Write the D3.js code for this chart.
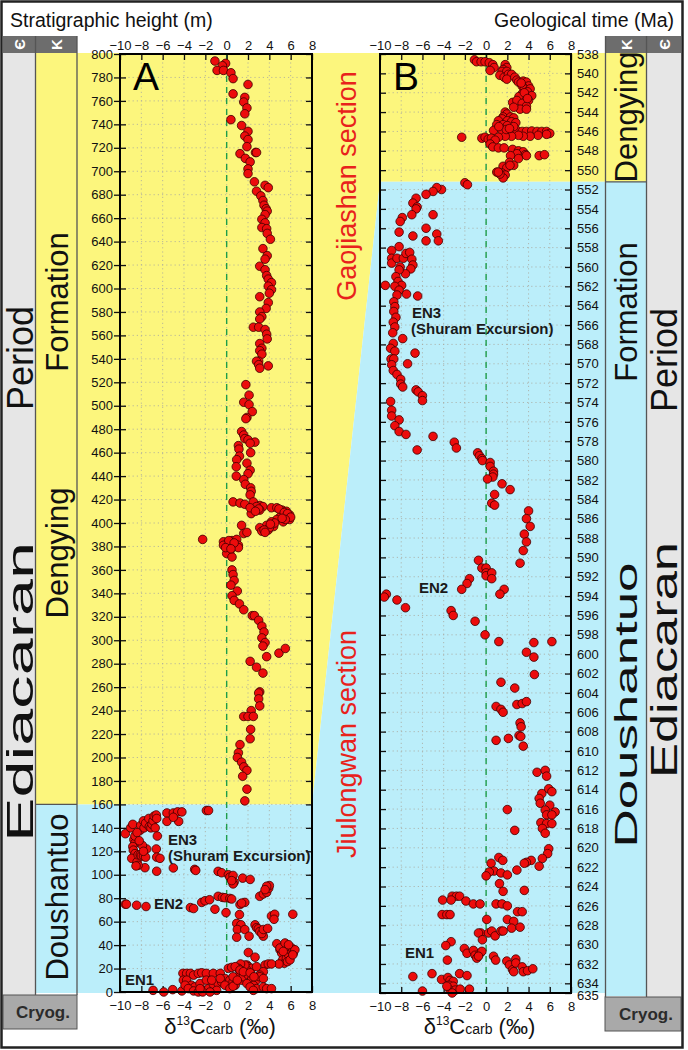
<!DOCTYPE html>
<html>
<head>
<meta charset="utf-8">
<script src="https://cdnjs.cloudflare.com/ajax/libs/d3/7.8.5/d3.min.js"></script>
<style>
  body { margin: 0; background: #fff; }
  svg text { font-family: Arial, "Liberation Sans", sans-serif; }
</style>
</head>
<body>
<div id="chart"></div>
<script>
// ---- data ----
const xTicks = [-10, -8, -6, -4, -2, 0, 2, 4, 6, 8];
const heightTicks = d3.range(0, 801, 20);
const ageTicks = d3.range(538, 635, 2).concat([635]);

// panel A: [d13C, stratigraphic height m]
const aDengying = [
  [-1.1,794],[-0.1,792],[-0.4,790],[-0.9,786],[-0.3,786],[0.4,784],[0.6,779],[2.0,774],[0.6,766],[1.7,763],
  [1.6,759],[1.9,754],[1.7,749],[0.4,744],[1.4,739],[2.0,734],[1.7,730],[2.0,727],[1.9,721],[2.7,716],
  [2.8,716],[1.25,715],[1.75,711],[2.2,708],[2.0,702],[2.0,698],[2.6,691],[3.6,688],[3.9,686],[2.8,683],
  [3.2,679],[3.4,675],[3.5,671],[3.7,668],[3.8,666],[3.6,663],[3.3,659],[3.6,656],[3.3,652],[3.75,651],
  [3.8,647],[4.1,642],[3.4,634],[3.8,628],[3.6,625],[3.1,619],[3.6,616],[3.75,611],[3.9,608],[4.2,605],
  [3.9,602],[4.2,599],[4.0,596],[3.1,593],[3.9,588],[3.7,583],[3.1,580],[3.3,576],[3.1,574],[2.5,567],
  [3.0,567],[3.6,565],[3.75,561],[3.8,557],[3.1,553],[3.3,549],[3.1,547],[3.3,544],[3.0,538],[2.8,538],
  [3.0,535],[3.1,532],[3.9,534],
  [1.8,518],[2.1,509],[1.6,503],[2.1,501],[2.4,495],[1.9,490],[1.8,489],[1.4,478],[1.6,475],[1.7,472],
  [2.0,471],[2.65,469],[2.2,468],[1.1,466],[1.15,463],[2.25,460],[1.2,457],[0.94,454],[1.9,451],[0.9,448],
  [2.2,445],[2.0,442],[0.9,440],[1.6,437],[1.75,433],[2.25,430],[2.3,427],[2.2,424],
  [0.6,418],[1.25,417],[1.7,416],[2.5,415],[3.1,415],[3.4,414],[4.2,413],[4.7,413],[5.2,411],[5.6,410],
  [5.9,407],[5.9,403],[5.6,405],[5.0,405],[4.7,403],[4.2,401],[3.75,398],[3.1,396],[3.3,393],[3.9,394],
  [4.4,397],[5.3,401],[2.5,418],[2.3,408],[3.1,411],[1.4,398],[1.6,391],[1.9,392],[4.9,412],[5.4,409],
  [5.7,408],[6.0,405],[5.5,403],[5.2,404],[4.5,400],[4.0,396],[3.5,394],[3.6,392],[4.1,399],[2.8,414],
  [2.2,413],[3.0,412],[2.7,410],
  [-2.25,386],[-0.3,384],[0,382],[0.5,385],[0.94,386],[0.8,380],[1.1,381],[-0.3,381],[0.3,383],[0.6,380],
  [1.1,379],[0.3,376],[0,374],[0.5,371],[0.2,385],[0.7,383],[-0.1,379],[0.4,378],
  [0.5,360],[0.6,356],[0.7,351],[0.4,347],[1.0,342],[0.5,338],[0.7,334],[1.2,331],[1.6,326],[2.4,321],
  [2.6,321],[3.0,317],[3.3,312],[3.5,307],[3.3,302],[3.6,298],[3.4,295],[3.75,286],[4.9,289],[5.5,293],
  [2.2,282],[2.8,277],[3.4,272],[3.1,256],[3.0,255],[3.0,250],[3.1,244],[2.3,240],[1.6,235],[2.0,235],
  [2.5,235],[2.25,224],[2.2,216],[1.25,211],[1.1,204],[1.0,200],[1.4,196],[1.6,192],[1.9,189],[1.5,184],
  [1.9,173],[1.7,163]
];

const aDoushantuo = [
  [-9.5,135],[-9.0,140],[-8.8,143],[-8.7,130],[-8.6,127],[-8.8,124],[-8.75,121],[-8.6,118],[-8.9,114],[-8.4,111],
  [-8.3,117],[-8.1,117],[-8.0,116],[-7.8,116],[-7.6,115],[-7.5,122],[-7.9,125],[-7.8,120],[-8.1,138],[-8.06,142],
  [-7.8,146],[-7.75,140],[-7.6,144],[-7.3,148],[-7.25,141],[-7.1,140],[-7.0,143],[-6.9,146],[-6.8,150],[-6.6,151],
  [-6.56,148],[-6.7,140],[-6.5,133],[-6.6,122],[-6.56,115],[-6.25,114],[-7.66,106],[-8.3,108],[-8.5,107.5],
  [-6.56,103],[-8.6,133],[-8.4,136],[-8.2,129],
  [-5.6,152.7],[-5.6,145.5],[-5.0,152.7],[-4.6,153.6],[-4.2,153.6],[-4.5,145.5],[-5.0,149],[-1.9,154.8],[-1.7,154.8],
  [-5.0,105.8],[-3.0,104.6],[-2.9,103.7],
  [-0.8,102.9],[-0.47,101.7],[0.16,100],[0.3,98],[0.6,99.4],[0.7,93.7],[0.6,92.2],[1.5,97.1],[2.2,96],[0.47,95],
  [-9.5,74.9],[-9.4,74.9],[-8.44,74],[-7.56,72.9],[-3.4,72],[-3.1,71.2],[-2.34,76.4],[-2.03,77.8],[-1.6,78.7],
  [-1.1,70.6],[-0.8,81.6],[-0.4,80.7],[-0.16,80.4],[0.3,79.8],[0.47,79.3],[-0.06,67.7],[1.2,66],[1.25,74.6],
  [1.7,76.4],[1.4,75.8],[3.1,81.6],[3.44,83.6],[3.75,85],[3.94,88.5],[4,90.8],[3.75,90.2],[3.6,87.3],[4.2,64.8],
  [4.5,66.3],[4.44,62],[6.2,66.3],
  [0.94,58.5],[1.34,57.3],[1,53.3],[1.7,53.3],[2.1,47.6],[0.94,46.7],[2.66,57.3],[2.8,54.8],[2.97,53.9],[3.1,51.6],
  [3.44,47.6],[3.3,49.9],[3.44,53.3],[3.84,54.2],
  [4.7,41.2],[5,36],[5.16,33.1],[5.25,27.4],[5.4,24.5],[5.6,28.8],[5.8,31.7],[5.94,36],[6.1,37.5],[6.25,33.1],
  [6.4,36],[5.56,38.9],[5,37.5],[5.7,25.9],[5.94,27.4],[5.47,41.8],[5.8,40.3],[6.2,31.7],[5.3,34.6],[4.9,23.9],
  [2.03,33.7],[2.66,29.7],[1.9,23],[2.03,21.6],[2.34,20.2],[2.8,21.6],[3.6,23],[3.9,23.9],[4.2,23.9],[3.44,17.3],
  [3.1,14.4],
  [-6.9,1.4],[-5.9,0],[-5.06,2],[-4.2,0.9],[-4.1,15.9],[-3.75,15.9],[-3.4,15.9],[-3.1,14.4],[-2.66,15.9],[-2.34,16.4],
  [-1.9,15.9],[-1.25,15.9],[-0.6,15.9],[-4.06,10.1],[-3.75,10.1],[-3.3,5.8],[-3,4.3],[-2.5,7.2],[-2.1,1.4],[-1.7,2.9],
  [-1.25,6.6],[-0.8,7.2],[-0.47,8.6],[-0.16,11.5],[0.3,10.1],[0.6,8.6],[0.8,5.8],[1.25,15.9],[1.4,10.1],[1.56,13],
  [1.9,18.7],[1.7,23],[1.3,23.9],[1.1,20.2],[2.03,14.4],[2.34,10.7],[2.8,10.1],[3.1,13],[3.44,11.5],[2.5,5.8],
  [2.8,2.9],[3.44,4.3],[3.75,2.9],[4.2,2.9],[-3.9,5.8],[-3.6,2.9],[-3.1,0.9],[-2.66,0],[-2.25,0],[-2.5,2.9],
  [-1.9,10.1],[-1.4,10.1],[-0.6,11.5],[-0.16,5.8],[0.3,2.9],[0.6,4.9],[1.9,7.2],[2.2,4.3],[2.5,1.4],[0.16,20.2],
  [0.47,21],[0.8,21.6],[1.25,18.7],[1.56,17.3],[2.2,16.4],[2.56,13],[0.6,13],[1,10.1],[-0.94,1.4],[-1.56,0]
];

// panel B: [d13C, age Ma]
const bDengying = [
  [-1.1,538.6],[-0.9,538.8],[-0.47,538.8],[-0.1,538.8],[0.3,538.9],[0.63,539.1],[0.75,539.4],[0.38,539.7],
  [1.8,539.1],[1.95,539.4],[1.6,539.6],[1.5,539.8],[1.95,539.8],[1.3,540.2],[1.7,540.4],[2.1,540.1],[2.4,540.1],
  [1.95,540.6],[2.7,540.4],[2.9,540.7],[3.05,540.9],[3.5,540.8],[3.8,540.9],[4.0,541.3],[3.4,541.3],[3.6,541.6],
  [4.15,541.6],[3.9,541.9],[3.4,542.1],[4.3,542.3],[3.7,542.5],[3.1,542.4],[4.0,542.8],[2.5,543.0],[2.9,542.8],
  [3.4,543.1],[3.8,543.4],[3.2,543.7],[3.8,543.7],[2.6,543.5],[3.6,542.0],[3.3,541.0],[3.9,542.6],
  [1.8,544.0],[1.95,544.2],[1.6,544.5],[2.3,544.5],[2.6,544.6],[1.5,544.7],[1.16,544.9],[2.0,544.9],[2.4,545.0],
  [2.8,545.1],[1.0,545.3],[1.6,545.3],[2.0,545.4],[0.7,545.9],[1.5,545.9],[2.3,545.95],[2.9,545.9],[3.4,546.0],
  [3.8,546.0],[4.3,545.95],[4.8,546.0],[5.25,546.0],[5.7,546.0],[6.0,546.2],[5.7,546.3],[4.9,546.4],[4.15,546.5],
  [3.5,546.5],[3.05,546.4],[2.4,546.5],[1.8,546.5],[1.16,546.6],[1.9,545.8],[2.6,545.5],[1.2,545.5],[2.2,545.7],
  [-2.3,546.6],[-0.4,546.7],[-0.1,546.6],[0.2,546.8],[0.5,546.7],[0.85,546.9],[0.38,547.3],[0.63,547.6],
  [1.16,547.7],[1.7,547.7],[2.5,547.85],[3.05,548.0],[3.5,548.1],[3.7,548.4],[3.8,548.5],[2.9,548.3],[2.3,548.5],
  [3.05,548.8],[5.0,548.5],[5.5,548.4],[2.2,549.2],[2.6,549.5],[1.6,549.6],[1.95,549.75],[1.0,550.2],[1.5,550.3],
  [1.8,550.5],[1.6,550.8],[1.3,550.4],[2.25,549.5],[1.15,550.2]
];

const bDoushantuo = [
  [-2.0,551.3],[-1.76,551.5],[-4.2,552.0],[-4.65,551.8],[-5.0,552.2],[-5.66,552.5],[-6.6,552.9],
  [-6.9,553.4],[-6.5,553.8],[-6.6,554.0],[-7.0,554.6],[-7.9,554.9],[-8.1,555.3],[-5.0,554.6],[-8.2,556.4],
  [-6.9,556.8],[-5.66,556.0],[-5.66,557.3],[-4.65,556.6],[-4.5,557.3],[-8.9,558.3],[-8.2,557.9],[-8.9,559.1],
  [-8.9,559.6],[-8.4,559.1],[-7.8,559.1],[-7.55,558.6],[-7.2,558.5],[-7.0,559.2],[-6.9,559.8],[-7.1,560.2],
  [-8.1,560.0],[-7.6,560.7],[-8.2,560.3],[-8.5,561.0],[-8.3,561.5],[-7.96,561.9],[-8.6,562.0],[-8.2,562.4],
  [-8.4,562.9],[-7.5,562.8],[-6.45,563.0],[-9.5,561.9],[-8.7,563.6],[-8.6,564.1],[-8.7,564.6],[-8.5,565.2],
  [-8.75,565.7],[-8.6,566.2],[-8.8,566.8],[-7.86,567.4],[-8.75,567.9],[-9.0,568.4],[-8.6,568.7],[-6.7,568.9],
  [-8.96,569.5],[-8.7,569.5],[-7.4,570.0],[-8.9,570.1],[-8.75,570.7],[-8.4,571.1],[-8.05,571.6],[-8.05,572.1],
  [-7.86,572.4],[-6.6,572.7],[-6.4,572.9],[-6.0,573.3],[-6.0,573.8],[-9.0,573.9],[-8.9,574.8],[-8.9,575.4],
  [-8.2,575.8],[-8.6,576.4],[-8.2,577.0],[-7.55,577.3],[-5.0,577.5],[-3.0,578.1],[-2.8,578.7],[-6.5,578.9],
  [-0.8,579.2],[-0.63,579.5],[-0.4,579.8],[-0.35,580.0],[0.38,580.2],[0.38,580.6],[0.7,581.1],[0.7,581.4],
  [0.63,581.7],[0.13,581.9],[1.5,582.4],[2.26,583.0],[0.8,583.5],[0.53,584.4],[0.8,584.6],[4.0,585.2],
  [3.8,586.0],[4.15,586.8],[3.6,587.6],[3.8,588.4],[3.5,589.3],[3.2,590.6],[-0.72,590.3],[-0.4,591.1],
  [0,591.1],[0,591.6],[0,591.9],[0.53,591.6],[0.53,592.2],[-1.57,592.2],[-1.8,592.7],[-2.3,593.3],[1.7,593.3],
  [1.3,593.8],[-9.4,593.8],[-9.6,594.1],[-8.4,594.4],[-7.6,595.2],[-3.3,595.5],[-3.1,596.0],[-1.04,596.6],
  [-0.1,598.0],[1.2,598.7],[4.5,598.8],[6.2,598.7],[3.8,599.8],[4.5,600.3],
  [4.55,602.1],[1.4,602.9],[2.7,603.5],[2.9,605.2],[3.4,605.1],[3.8,604.9],[0.94,605.4],[1.4,605.7],[1.6,606.0],
  [3.2,607.1],[3.3,607.5],[3.1,608.4],[3.27,608.5],[0.94,608.9],[2.1,608.7],[3.5,609.5],[4.8,612.2],[5.57,612.0],
  [5.7,612.6],[5.9,613.9],[6.2,614.2],[5.25,614.4],[5.0,614.9],[5.1,615.4],[6.0,615.6],[5.57,616.1],[6.5,616.3],
  [5.7,616.6],[6.2,616.6],[5.16,617.4],[5.7,617.5],[6.2,617.5],[5.3,618.0],[5.57,618.5],[2.0,616.05],[2.7,618.2],
  [5.9,620.1],[5.8,620.6],[5.3,621.1],[5.0,621.9],[4.25,621.3],[3.8,621.5],[3.6,621.6],[2.9,622.3],[1.2,621.0],
  [1.57,621.3],[0.47,621.6],[0.75,622.4],[0.3,622.5],[0,622.9],[1.4,622.6],[2.0,622.8],[1.26,623.7],[1.6,624.5],
  [3.6,624.4],[-4.1,625.4],[-3.2,625.0],[-2.8,625.0],[-2.5,625.0],[-3.3,625.4],[-1.9,625.5],[-1.2,625.8],
  [-0.57,625.8],[-4.15,626.9],[-3.7,626.9],[-3.4,626.9],[0.94,625.8],[1.5,625.8],[2.0,626.0],[2.96,626.6],
  [3.4,626.6],[0.06,627.4],[2.0,627.4],[2.6,627.6],[2.4,628.3],[3.2,628.2],[-0.5,628.8],[-0.72,628.8],
  [-0.35,629.5],[0.22,628.8],[0.53,628.6],[0.85,629.1],[1.4,628.6],[1.6,628.6],[-3.3,629.7],[-3.8,630.1],
  [-3.65,631.6],[-2.05,630.4],[-1.8,630.9],[-1.2,630.6],[-1.04,631.1],[-0.88,631.4],[-0.57,630.9],[-0.4,630.7],
  [-0.72,631.2],[0.7,631.2],[0.9,631.6],[1.95,631.7],[2.2,632.1],[2.5,632.6],[2.8,631.5],[2.8,631.9],[2.6,632.8],
  [3.4,632.3],[3.5,632.8],[3.9,632.7],[4.4,632.5],[-6.9,633.3],[-5.1,633.0],[-2.5,633.0],[-1.8,633.2],[-4.2,633.6],
  [-3.6,633.4],[-3.4,633.7],[-3.1,633.8],[-3.5,634.2],[-3.1,634.3],[-3.4,634.7],[-2.9,634.7],[-2.45,634.6],
  [-1.57,634.6],[-6.0,634.8],[-3.2,635.0],[-3.7,634.3]
];

const boundaryHeight = 160;   // Dengying / Doushantuo in panel A (m)
const boundaryAge = 551.2;    // Dengying / Doushantuo in panel B (Ma)

// ---- layout ----
const W = 688, H = 1050;
const yellow = "#fcf67d", cyan = "#bbeefa", lightGray = "#e6e6e6", headGray = "#6d6d6d";
const bandTop = 53, bandBottom = 993;

const svg = d3.select("#chart").append("svg")
  .attr("width", W).attr("height", H);

const xA = d3.scaleLinear().domain([-10, 8]).range([120, 312]);
const yA = d3.scaleLinear().domain([0, 800]).range([992, 54]);
const xB = d3.scaleLinear().domain([-10, 8]).range([380, 571]);
const yB = d3.scaleLinear().domain([538, 635]).range([54, 993]);

// background bands
const yBoundA = yA(boundaryHeight), yBoundB = yB(boundaryAge);
const poly = pts => pts.map(p => p.join(",")).join(" ");
svg.append("polygon").attr("fill", yellow)
  .attr("points", poly([[36, bandTop], [646, bandTop], [646, yBoundB], [xB.range()[0], yBoundB], [xA.range()[1], yBoundA], [36, yBoundA]]));
svg.append("polygon").attr("fill", cyan)
  .attr("points", poly([[36, yBoundA], [xA.range()[1], yBoundA], [xB.range()[0], yBoundB], [646, yBoundB], [646, bandBottom + 3], [605, bandBottom + 3], [605, bandBottom], [36, bandBottom]]));

// era columns
svg.append("rect").attr("x", 3).attr("y", bandTop).attr("width", 32).attr("height", 942).attr("fill", lightGray);
svg.append("rect").attr("x", 647).attr("y", bandTop).attr("width", 34).attr("height", 944).attr("fill", lightGray);
[[3, 32], [36, 41], [606, 40], [647, 34]].forEach(([x, w]) => {
  svg.append("rect").attr("x", x).attr("y", 36).attr("width", w).attr("height", 17).attr("fill", headGray);
});
[["\u0404", 19], ["K", 56.5], ["K", 626], ["\u0404", 664]].forEach(([t, x]) => {
  svg.append("text").attr("transform", `translate(${x},44.5) rotate(-90)`)
    .attr("text-anchor", "middle").attr("dominant-baseline", "central")
    .attr("fill", "#fff").attr("font-weight", "bold").attr("font-size", 15).text(t);
});
const sep = svg.append("g").attr("stroke", "#555").attr("stroke-width", 1.3);
[35.5, 77, 605.5, 646.5].forEach(x => {
  sep.append("line").attr("x1", x).attr("x2", x).attr("y1", 36).attr("y2", x < 300 ? 995 : 997);
});
sep.append("line").attr("x1", 36).attr("x2", 77).attr("y1", yBoundA).attr("y2", yBoundA);
sep.append("line").attr("x1", 605.5).attr("x2", 646.5).attr("y1", yBoundB).attr("y2", yBoundB);

// cryogenian boxes
[[3, 995, 74], [605, 997, 76]].forEach(([x, y, w]) => {
  svg.append("rect").attr("x", x).attr("y", y).attr("width", w).attr("height", 34)
    .attr("fill", "#a9a9a9").attr("stroke", "#555").attr("stroke-width", 1);
  svg.append("text").attr("x", x + w / 2 + 3).attr("y", y + 23).attr("text-anchor", "middle")
    .attr("font-size", 17).attr("font-weight", "bold").attr("fill", "#2b2b2b").text("Cryog.");
});

// rotated column labels (len stretches the glyphs like the original artwork)
const vtext = (t, x, y, size, color, len) => {
  const el = svg.append("text")
    .attr("transform", `translate(${x},${y}) rotate(-90)`)
    .attr("text-anchor", "middle").attr("dominant-baseline", "central")
    .attr("font-size", size).attr("fill", color || "#111").text(t);
  if (len) el.attr("textLength", len).attr("lengthAdjust", "spacingAndGlyphs");
  return el;
};
vtext("Period", 20, 358, 36);
vtext("Ediacaran", 20, 692, 36, null, 300);
vtext("Formation", 57, 302, 31);
vtext("Dengying", 57, 553, 31);
vtext("Doushantuo", 57, 897, 31);
vtext("Dengying", 626, 117, 31);
vtext("Formation", 626, 312, 31);
vtext("Doushantuo", 626, 705, 31, null, 285);
vtext("Period", 664, 360, 36);
vtext("Ediacaran", 664, 660, 36, null, 236);
vtext("Gaojiashan section", 347, 186, 27, "#e8221c");
vtext("Jiulongwan section", 347, 744, 27, "#e8221c");

// top titles
svg.append("text").attr("x", 10).attr("y", 27).attr("font-size", 19.5).attr("fill", "#111").text("Stratigraphic height (m)");
svg.append("text").attr("x", 674).attr("y", 27).attr("font-size", 19.5).attr("fill", "#111")
  .attr("text-anchor", "end").text("Geological time (Ma)");

// ---- panels ----
function panel(x, y, yTicks, ptsSets, side, letter) {
  const g = svg.append("g");
  const [x0, x1] = x.range();
  const [yb, yt] = [d3.max(y.range()), d3.min(y.range())];
  const grid = g.append("g").attr("stroke", "#a9a9a0").attr("stroke-width", 0.8).attr("stroke-dasharray", "1.2,3");
  grid.selectAll(".gx").data(xTicks.slice(1, -1)).join("line")
    .attr("x1", d => x(d)).attr("x2", d => x(d)).attr("y1", yt).attr("y2", yb);
  grid.selectAll(".gy").data(yTicks.filter(v => y(v) > yt + 1 && y(v) < yb - 1)).join("line")
    .attr("x1", x0).attr("x2", x1).attr("y1", d => y(d)).attr("y2", d => y(d));
  g.append("line").attr("x1", x(0)).attr("x2", x(0)).attr("y1", yt).attr("y2", yb)
    .attr("stroke", "#1f9e4b").attr("stroke-width", 1.4).attr("stroke-dasharray", "6,5");

  const top = g.append("g").attr("transform", `translate(0,${yt})`)
    .call(d3.axisTop(x).tickValues(xTicks).tickSize(-6).tickPadding(4));
  const bot = g.append("g").attr("transform", `translate(0,${yb})`)
    .call(d3.axisBottom(x).tickValues(xTicks).tickSize(-6).tickPadding(9));
  const lab = g.append("g").attr("transform", `translate(${side === "left" ? x0 : x1},0)`)
    .call((side === "left" ? d3.axisLeft(y) : d3.axisRight(y)).tickValues(yTicks).tickSize(-6).tickPadding(side === "left" ? 7 : 6));
  const opp = g.append("g").attr("transform", `translate(${side === "left" ? x1 : x0},0)`)
    .call((side === "left" ? d3.axisRight(y) : d3.axisLeft(y)).tickValues(yTicks).tickSize(-6).tickFormat(""));
  if (side === "left") lab.selectAll(".tick line").attr("x1", -6);
  [top, bot, lab, opp].forEach(a => {
    a.selectAll(".domain").remove();
    a.selectAll(".tick line").attr("stroke", "#111").attr("stroke-width", 1.3);
    a.selectAll("text").attr("font-size", 13).attr("fill", "#111").attr("font-family", "Arial, 'Liberation Sans', sans-serif");
  });
  // the last age label sits just under its neighbour in the original
  lab.selectAll(".tick").filter(d => d === 635).select("text").attr("dy", "0.5em");

  ptsSets.forEach(pts => {
    g.append("g").selectAll("circle").data(pts).join("circle")
      .attr("cx", d => x(d[0])).attr("cy", d => y(d[1])).attr("r", 4.3)
      .attr("fill", "#ec0c0c").attr("stroke", "#3c0000").attr("stroke-width", 0.8);
  });

  g.append("rect").attr("x", x0).attr("y", yt).attr("width", x1 - x0).attr("height", yb - yt)
    .attr("fill", "none").attr("stroke", "#000").attr("stroke-width", 2);
  g.append("text").attr("x", x0 + 13).attr("y", yt + 36).attr("font-size", 39).attr("fill", "#000").text(letter);

  // x axis title
  const t = g.append("text").attr("x", (x0 + x1) / 2 + 4).attr("y", 1034).attr("text-anchor", "middle")
    .attr("fill", "#111").attr("font-size", 22);
  t.append("tspan").text("\u03b4");
  t.append("tspan").attr("font-size", 12).attr("dy", -9).text("13");
  t.append("tspan").attr("dy", 9).text("C");
  t.append("tspan").attr("font-size", 14).attr("dy", 0).text("carb");
  t.append("tspan").attr("dy", 0).text(" (\u2030)");
  return g;
}

panel(xA, yA, heightTicks, [aDengying, aDoushantuo], "left", "A");
panel(xB, yB, ageTicks, [bDengying, bDoushantuo], "right", "B");

// excursion labels
const lab = (t, x, y) => svg.append("text").attr("x", x).attr("y", y).attr("font-size", 15)
  .attr("font-weight", "bold").attr("fill", "#1a1a1a").text(t);
lab("EN3", 168, 845); lab("(Shuram Excursion)", 168, 861);
lab("EN2", 154, 909); lab("EN1", 125, 985);
lab("EN3", 412, 318); lab("(Shuram Excursion)", 411, 334);
lab("EN2", 419, 593); lab("EN1", 405, 958);

// outer frame
svg.append("rect").attr("x", 1.5).attr("y", 1.5).attr("width", 681).attr("height", 1046)
  .attr("fill", "none").attr("stroke", "#222").attr("stroke-width", 2.5);
</script>
</body>
</html>
